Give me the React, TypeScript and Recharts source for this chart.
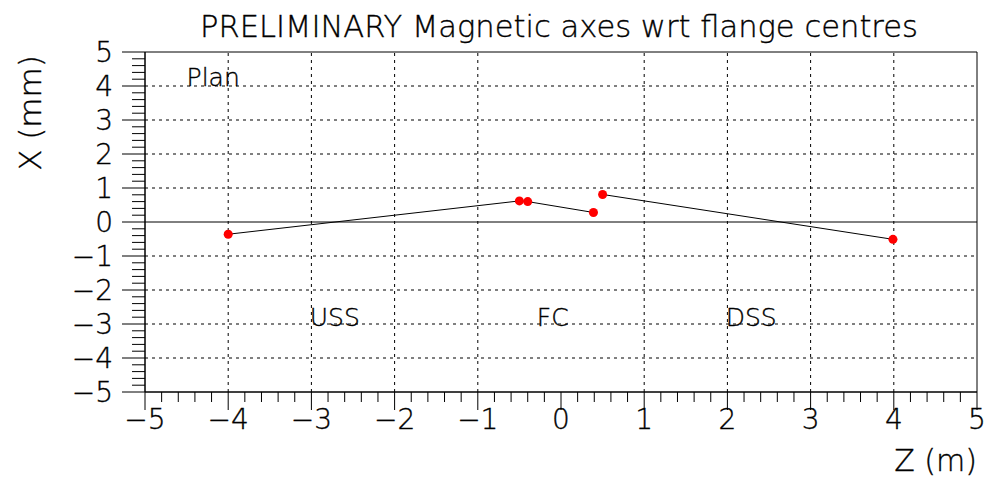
import {
  ReferenceArea,
  ReferenceDot,
  ReferenceLine,
  Scatter,
  ScatterChart,
  XAxis,
  YAxis,
  ZAxis,
} from "recharts"

// Z (m) vs X (mm) of magnetic axes
const upstreamAxis = [
  { z: -4.0, x: -0.36 },
  { z: -0.5, x: 0.62 },
  { z: -0.4, x: 0.6 },
  { z: 0.39, x: 0.28 },
]
const downstreamAxis = [
  { z: 0.5, x: 0.81 },
  { z: 3.99, x: -0.51 },
]

const majorTicks = [-5, -4, -3, -2, -1, 0, 1, 2, 3, 4, 5]
const gridTicks = [-4, -3, -2, -1, 1, 2, 3, 4]
const regionLabels = [
  { name: "Plan", z: -4.5, x: 4.0 },
  { name: "USS", z: -3.02, x: -3.05 },
  { name: "FC", z: -0.29, x: -3.05 },
  { name: "DSS", z: 1.98, x: -3.05 },
]

// 5 subdivisions between major ticks, like ROOT
const allTicks: number[] = []
majorTicks.forEach((t, i) => {
  allTicks.push(t)
  if (i < majorTicks.length - 1) {
    for (let k = 1; k < 5; k++) allTicks.push(Math.round((t + k / 5) * 100) / 100)
  }
})

const FONT = "'DejaVu Sans', 'Liberation Sans', sans-serif"
// thin font, slightly darkened with a hairline stroke
const textStyle = { fontFamily: FONT, fontWeight: 200, fill: "#000", stroke: "#000", strokeWidth: 0.35 }
const isMajor = (v: number) => Math.abs(v - Math.round(v)) < 1e-6
const fmt = (v: number) => (v < 0 ? "\u2212" + Math.abs(v) : String(v))

function ZTick({ x, y, payload }: any) {
  const v = payload.value
  const major = isMajor(v)
  return (
    <g>
      <line x1={x} y1={y} x2={x} y2={y + (major ? 18 : 10)} stroke="#000" />
      {major && (
        <text x={x} y={y + 37} textAnchor="middle" fontSize={28} {...textStyle}>
          {fmt(v)}
        </text>
      )}
    </g>
  )
}

function XTick({ x, y, payload }: any) {
  const v = payload.value
  const major = isMajor(v)
  return (
    <g>
      <line x1={x} y1={y} x2={x - (major ? 23 : 13)} y2={y} stroke="#000" />
      {major && (
        <text x={x - 32} y={y + 10} textAnchor="end" fontSize={28} {...textStyle}>
          {fmt(v)}
        </text>
      )}
    </g>
  )
}

export default function App() {
  return (
    <div style={{ position: "absolute", left: 0, top: 0, width: 990, height: 486, background: "#fff" }}>
      <ScatterChart width={990} height={486} margin={{ top: 52, right: 13, left: 0, bottom: 0 }}>
        <XAxis
          type="number"
          dataKey="z"
          domain={[-5, 5]}
          ticks={allTicks}
          interval={0}
          height={94}
          tickLine={false}
          tickSize={0}
          tickMargin={0}
          axisLine={{ stroke: "#000" }}
          tick={(p: any) => <ZTick {...p} />}
          allowDataOverflow
        />
        <YAxis
          type="number"
          dataKey="x"
          domain={[-5, 5]}
          ticks={allTicks}
          interval={0}
          width={145}
          tickLine={false}
          tickSize={0}
          tickMargin={0}
          axisLine={{ stroke: "#000" }}
          tick={(p: any) => <XTick {...p} />}
          allowDataOverflow
        />
        <ZAxis range={[95, 95]} />
        {gridTicks.map((t) => (
          <ReferenceLine key={"v" + t} x={t} stroke="#000" strokeDasharray="3 4" />
        ))}
        {gridTicks.map((t) => (
          <ReferenceLine key={"h" + t} y={t} stroke="#000" strokeDasharray="3 4" />
        ))}
        <ReferenceLine y={0} stroke="#000" />
        <ReferenceArea x1={-5} x2={5} y1={-5} y2={5} fill="none" stroke="#000" />
        {regionLabels.map((r) => (
          <ReferenceDot
            key={r.name}
            x={r.z}
            y={r.x}
            r={0}
            shape={(p: any) => (
              <text x={p.cx} y={p.cy} fontSize={25} {...textStyle}>
                {r.name}
              </text>
            )}
          />
        ))}
        <Scatter
          data={upstreamAxis}
          fill="#ff0000"
          line={{ stroke: "#000", strokeWidth: 1 }}
          isAnimationActive={false}
        />
        <Scatter
          data={downstreamAxis}
          fill="#ff0000"
          line={{ stroke: "#000", strokeWidth: 1 }}
          isAnimationActive={false}
        />
      </ScatterChart>
      <svg width={990} height={486} style={{ position: "absolute", left: 0, top: 0, pointerEvents: "none" }}>
        <text x={200} y={37} textLength={718} lengthAdjust="spacingAndGlyphs" fontSize={30} {...textStyle}>
          PRELIMINARY Magnetic axes wrt flange centres
        </text>
        <text transform="translate(41,113) rotate(-90)" textAnchor="middle" fontSize={31} {...textStyle}>
          X (mm)
        </text>
        <text x={977} y={471} textAnchor="end" fontSize={30} {...textStyle}>
          Z (m)
        </text>
      </svg>
    </div>
  )
}
